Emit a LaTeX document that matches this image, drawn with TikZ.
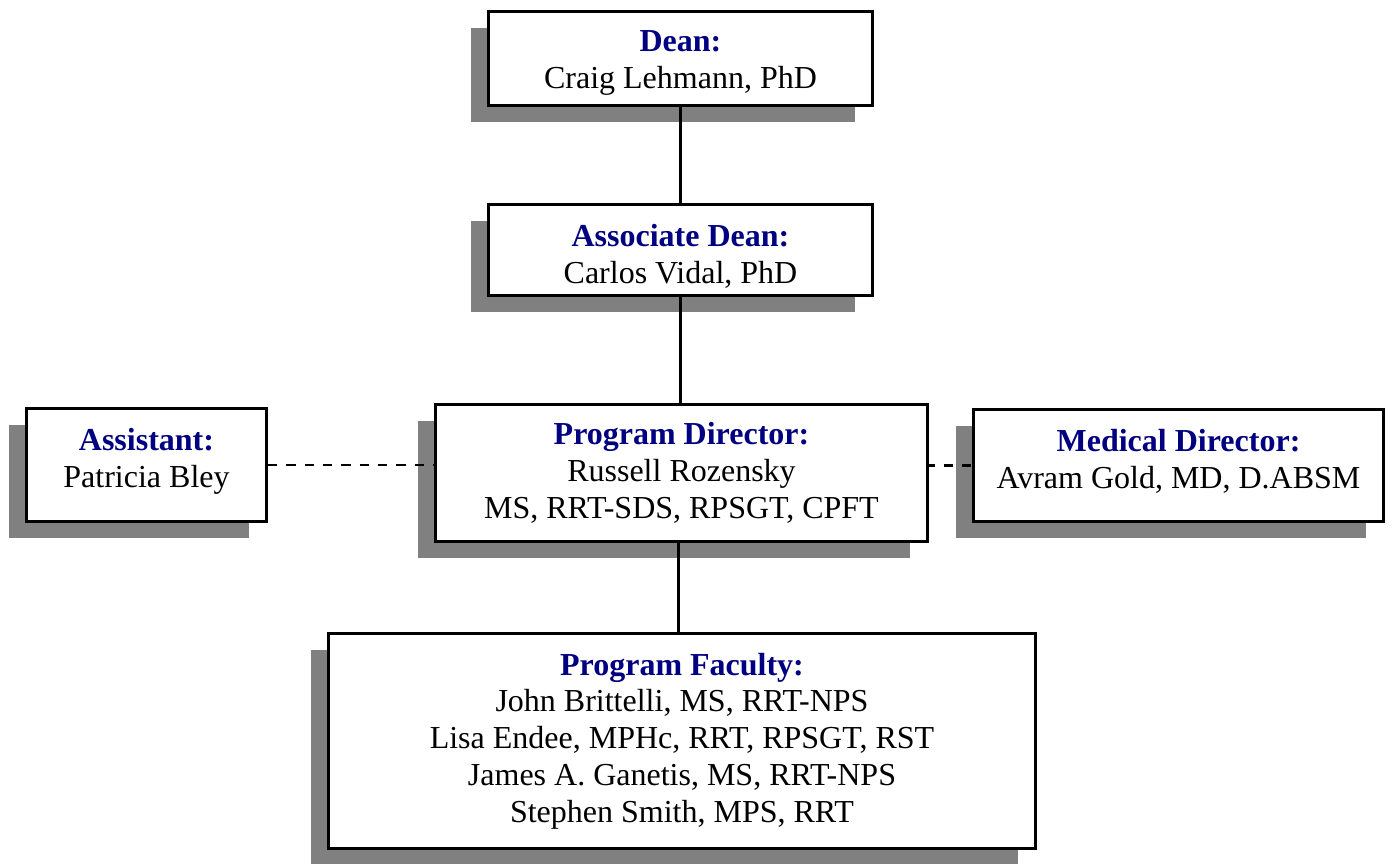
\documentclass[tikz,border=0pt]{standalone}
\usepackage{fontspec}
\setmainfont{Liberation Serif}
\usetikzlibrary{shadows}
\definecolor{titleblue}{RGB}{0,0,128}
\definecolor{shadowgray}{RGB}{128,128,128}
\newcommand{\orgtitle}[1]{{\bfseries\color{titleblue}#1}}
\begin{document}
\begin{tikzpicture}[x=1pt,y=-1pt,
  orgbox/.style={draw=black, line width=3.2pt, fill=white, inner sep=0pt,
    general shadow={fill=shadowgray, shadow xshift=-18pt, shadow yshift=-16pt}},
  boxtext/.style={inner sep=0pt, align=center, font=\fontsize{32}{36.8}\selectfont},
  link/.style={line width=2.6pt},
  dlink/.style={line width=2.6pt, dash pattern=on 9.3pt off 9pt}]
\useasboundingbox (0,0) rectangle (1393,863);
% boxes
\node[orgbox, minimum width=384pt, minimum height=94pt] (dean) at (680.5,58.5) {};
\node[orgbox, minimum width=384pt, minimum height=91pt] (assoc) at (680.5,250) {};
\node[orgbox, minimum width=492pt, minimum height=137pt] (pd) at (681.5,473) {};
\node[orgbox, minimum width=240pt, minimum height=113pt] (asst) at (146.5,465) {};
\node[orgbox, minimum width=410pt, minimum height=112pt] (med) at (1178.5,465.5) {};
\node[orgbox, minimum width=707pt, minimum height=215pt] (fac) at (682,741) {};
% texts
\node[boxtext] (deanT) at (680.5,63) {\orgtitle{Dean:}\\Craig Lehmann, PhD};
\node[boxtext] (assocT) at (680.5,256) {\orgtitle{Associate Dean:}\\Carlos Vidal, PhD};
\node[boxtext] (pdT) at (681.5,473) {\orgtitle{Program Director:}\\Russell Rozensky\\MS, RRT-SDS, RPSGT, CPFT};
\node[boxtext] (asstT) at (146.5,461) {\orgtitle{Assistant:}\\Patricia Bley};
\node[boxtext] (medT) at (1178.5,461.5) {\orgtitle{Medical Director:}\\Avram Gold, MD, D.ABSM};
\node[boxtext] (facT) at (682,741) {\orgtitle{Program Faculty:}\\John Brittelli, MS, RRT-NPS\\Lisa Endee, MPHc, RRT, RPSGT, RST\\James A. Ganetis, MS, RRT-NPS\\Stephen Smith, MPS, RRT};
% connectors
\draw[link] (dean.south) -- (assoc.north);
\draw[link] (assoc.south) -- (assoc.south |- pd.north);
\draw[link] ([xshift=-3pt]pd.south) -- ([xshift=-3pt]pd.south |- fac.north);
\draw[dlink] (asst.east) -- (asst.east -| pd.west);
\draw[dlink, dash phase=3.8pt] (pd.east |- med.west) -- (med.west);
\end{tikzpicture}
\end{document}
